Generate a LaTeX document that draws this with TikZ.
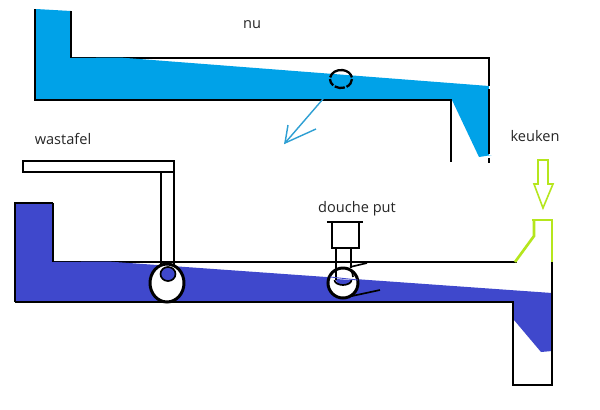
\documentclass[tikz,border=0pt]{standalone}
\usepackage{fontspec}
\setmainfont{Open Sans}
\usepackage{xcolor}
\definecolor{topblue}{HTML}{00A2E8}
\definecolor{arrowblue}{HTML}{2E9FD3}
\definecolor{lowblue}{HTML}{3F48CC}
\definecolor{lime}{HTML}{B5E61D}
\tikzset{pipe/.style={draw=black,line width=1.3pt},
 thinpipe/.style={draw=black,line width=.95pt},
 heavypipe/.style={draw=black,line width=1.7pt},
 limeline/.style={draw=lime,line width=1.5pt},
 limearrow/.style={draw=lime,line width=.9pt},
 label/.style={font=\fontsize{8.3}{10}\selectfont,text=black!85,inner sep=0pt},
 }

\begin{document}
\begin{tikzpicture}[x=.02cm,y=-.02cm]
        \useasboundingbox (0, 0) rectangle (600, 410);
        \fill [white] (0, 0) rectangle (600, 410);

        \draw [pipe] (71, 58) -- (489, 58) -- (489, 86);
        \fill [topblue] (36, 9) -- (71, 11) -- (71, 58) -- (120, 57.5) -- (489, 86) -- (489, 155) -- (492, 155) -- (479, 157) -- (452, 100) -- (36, 100) -- cycle;
        \draw [pipe] (35, 9) -- (35, 100) -- (451, 100) -- (451, 162);
        \draw [pipe] (71, 11) -- (71, 58);
        \draw [pipe] (489, 89) -- (489, 154);
        \draw [pipe] (489, 158) -- (489, 163);
        \draw [pipe] (330.2, 77.4) arc (190:350:11 and 9);
        \draw [pipe] (352, 79) arc (0:60:11 and 9);
        \draw [pipe] (344.8, 87.5) arc (70:125:11 and 9);
        \draw [pipe] (333.2, 85.4) arc (135:180:11 and 9);
        \draw [arrowblue, line width=.8pt] (323, 99) -- (285, 143);
        \draw [arrowblue, line width=.8pt] (288, 125) -- (285, 143) -- (316, 129);

        \draw [thinpipe, fill=white] (23, 161) rectangle (174, 172);
        \draw [pipe] (53, 262) -- (517, 262);
        \fill [lowblue] (15, 203) -- (53, 203) -- (53, 262) -- (108, 261.5) -- (552, 293) -- (552, 351) -- (541, 352) -- (514, 320) -- (513, 302) -- (15, 302) -- cycle;
        \draw [thinpipe] (53, 203) -- (15, 203) -- (15, 302);
        \draw [thinpipe] (53, 203) -- (53, 262);
        \draw [pipe] (15, 302) -- (513, 302) -- (513, 385) -- (552, 385) -- (552, 303);
        \draw [heavypipe] (552, 262) -- (552, 303);

        \draw [heavypipe, fill=white] (167, 283) ellipse (17 and 19);
        \draw [thinpipe, fill=lowblue] (168, 274) ellipse (7.5 and 7);
        \draw [thinpipe] (161, 172) -- (161, 266);
        \draw [thinpipe] (174, 172) -- (174, 266);

        \draw [thinpipe] (327, 222) -- (363, 222);
        \draw [thinpipe] (332, 222) -- (332, 248) -- (359, 248) -- (359, 222);
        \draw [heavypipe, fill=white] (343, 283) circle (15);
        \fill [lowblue] (336, 279) -- (351, 280) arc (0:180:7.5 and 5) -- cycle;
        \draw [thinpipe] (351.5, 280) arc (0:180:8.5 and 5);
        \draw [thinpipe] (336, 248) -- (336, 280);
        \draw [thinpipe] (351, 248) -- (351, 268);
        \draw [thinpipe] (346, 268) arc (270:360:7 and 9);
        \draw [lowblue, line width=.5pt] (330, 277) -- (358, 280);
        \draw [thinpipe] (350, 267) -- (367, 263);
        \draw [thinpipe] (352, 296) -- (380, 290);

        \draw [limearrow] (538, 160) -- (548, 160) -- (548, 184) -- (553, 184) -- (543, 208) -- (534, 184) -- (538, 184) -- cycle;
        \draw [limeline] (515, 262) -- (534, 236) -- (534, 220);
        \draw [limeline] (532, 220) -- (552, 220) -- (552, 262);

        \node [label] (nu) at (252, 25) {nu};
        \node [label] (wastafel) at (63, 139) {wastafel};
        \node [label] (douche) at (357, 209) {douche put};
        \node [label] (keuken) at (535, 136) {keuken};
    \end{tikzpicture}
\end{document}
